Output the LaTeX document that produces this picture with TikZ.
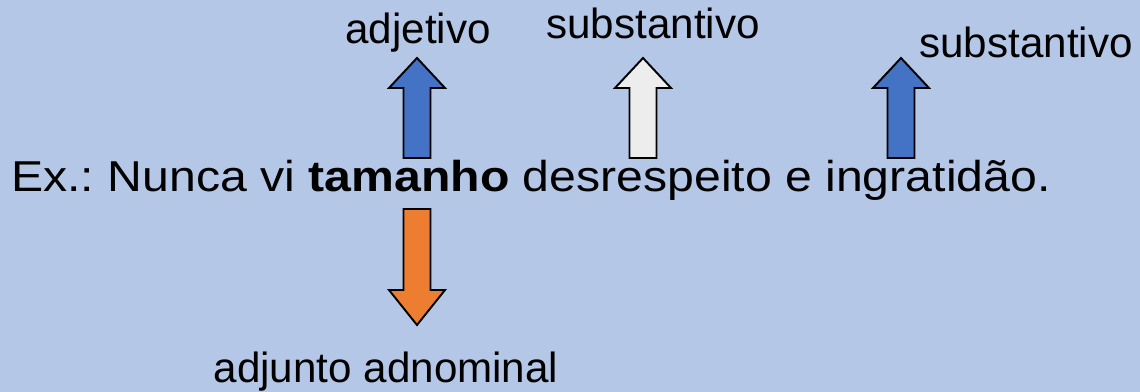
\documentclass[tikz,border=0pt]{standalone}
\usepackage{fontspec}
\setmainfont{Liberation Sans}
\newfontfamily\frasefont[FakeStretch=1.115]{Liberation Sans}
\usepackage{xcolor}
\definecolor{bgblue}{HTML}{B4C7E7}
\definecolor{arrblue}{HTML}{4472C4}
\definecolor{arrgray}{HTML}{EDEDED}
\definecolor{arrorange}{HTML}{ED7D31}

\tikzset{
  word/.style={font=\fontsize{24}{28}\selectfont, inner sep=0pt},
  frase/.style={font=\frasefont\fontsize{24.6}{29}\selectfont, inner sep=0pt},
  blockarrow/.style={draw=black, line width=1.1pt, line join=miter},
}
% block arrow pointing up: #1 = x of axis, #2 = fill
\newcommand{\uparr}[2]{%
  \filldraw[blockarrow, fill=#2] (#1-13.5,158) -- (#1-13.5,88) -- (#1-28,88) -- (#1,58)
    -- (#1+28,88) -- (#1+13.5,88) -- (#1+13.5,158) -- cycle;}

\begin{document}
\frenchspacing
\begin{tikzpicture}[x=0.02cm,y=-0.02cm]
    \fill[bgblue] (0,0) rectangle (1140,392);
    \useasboundingbox (0,0) rectangle (1140,392);

    \node[frase, anchor=base west] (frase) at (11,191) {Ex.: Nunca vi \textbf{tamanho} desrespeito e ingratidão.};

    \node[word, anchor=base] (adj) at (418,43) {adjetivo};
    \node[word, anchor=base] (subst1) at (653,38) {substantivo};
    \node[word, anchor=base] (subst2) at (1026,57) {substantivo};
    \node[word, anchor=base] (adjunto) at (386,382) {adjunto adnominal};

    \uparr{417}{arrblue}
    \uparr{643}{arrgray}
    \uparr{901}{arrblue}
    % down arrow
    \filldraw[blockarrow, fill=arrorange] (403.5,209) -- (403.5,290) -- (389,290) -- (417,325)
      -- (445,290) -- (430.5,290) -- (430.5,209) -- cycle;
\end{tikzpicture}
\end{document}
